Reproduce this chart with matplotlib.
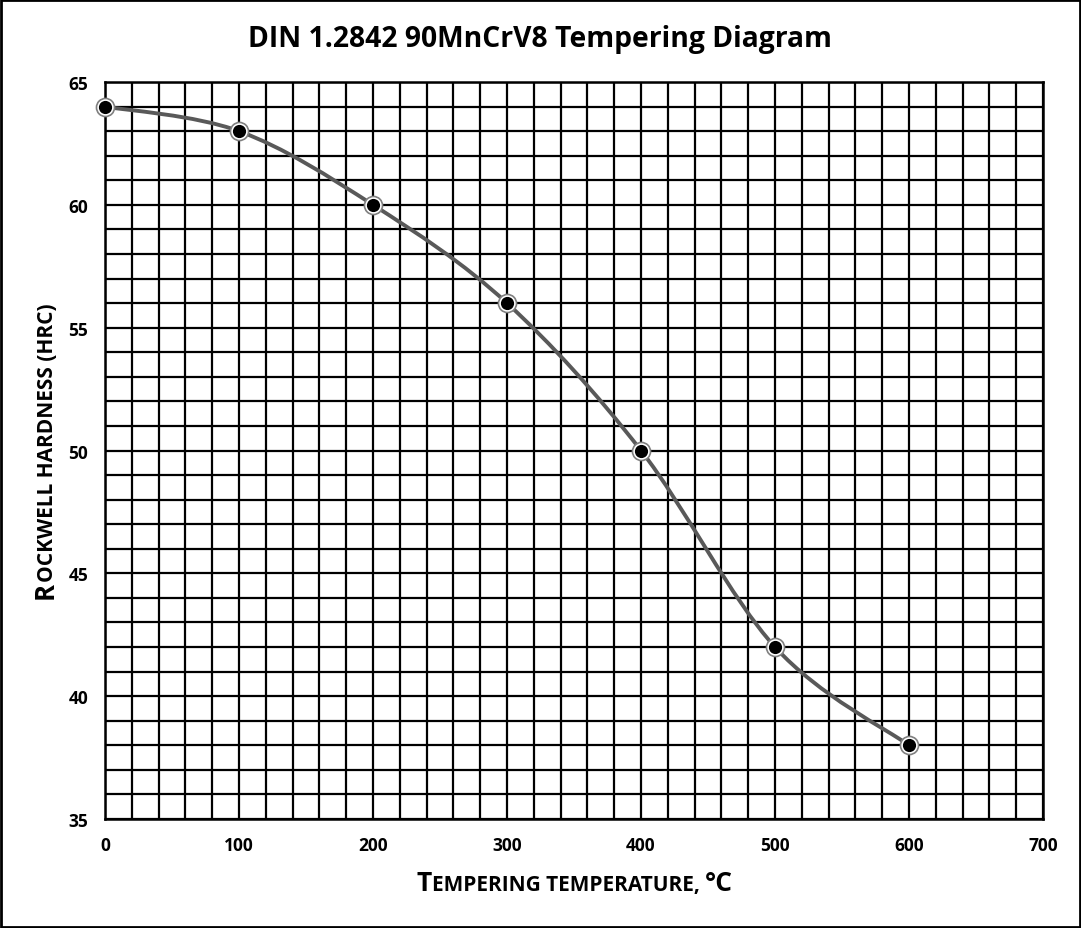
import matplotlib
matplotlib.use('Agg')
import matplotlib.pyplot as plt
from matplotlib.path import Path
from matplotlib.patches import PathPatch, Rectangle
from matplotlib.ticker import MultipleLocator

plt.rcParams['font.family'] = ['Open Sans', 'DejaVu Sans']
plt.rcParams['font.weight'] = 'bold'

# data
temps = [0, 100, 200, 300, 400, 500, 600]
hardness = [64, 63, 60, 56, 50, 42, 38]

title = 'DIN 1.2842 90MnCrV8 Tempering Diagram'
xlabel_parts = [('T', 19), ('EMPERING TEMPERATURE, ', 15), ('°C', 19)]
ylabel_parts = [('R', 18.5), ('OCKWELL HARDNESS (HRC)', 15)]

W, H = 1081, 929
fig = plt.figure(figsize=(W / 100, H / 100), dpi=100)
ax = fig.add_axes([105 / W, 1 - 820 / H, (1043 - 105) / W, (820 - 83) / H])

ax.set_xlim(0, 700)
ax.set_ylim(35, 65)
ax.xaxis.set_major_locator(MultipleLocator(100))
ax.xaxis.set_minor_locator(MultipleLocator(20))
ax.yaxis.set_major_locator(MultipleLocator(5))
ax.yaxis.set_minor_locator(MultipleLocator(1))
ax.grid(which='both', color='black', linewidth=1.6)
ax.set_axisbelow(True)
for sp in ax.spines.values():
    sp.set_linewidth(1.8)
ax.tick_params(which='both', length=0, labelsize=12.5, pad=12)
for lab in ax.get_xticklabels() + ax.get_yticklabels():
    lab.set_fontweight('bold')


# smoothed line like the spreadsheet (Catmull-Rom style bezier)
def smooth_path(xs, ys):
    pts = list(zip(xs, ys))
    verts = [pts[0]]
    codes = [Path.MOVETO]
    n = len(pts)
    for i in range(n - 1):
        p0 = pts[i - 1] if i > 0 else pts[i]
        p1 = pts[i]
        p2 = pts[i + 1]
        p3 = pts[i + 2] if i + 2 < n else pts[i + 1]
        c1 = (p1[0] + (p2[0] - p0[0]) / 6, p1[1] + (p2[1] - p0[1]) / 6)
        c2 = (p2[0] - (p3[0] - p1[0]) / 6, p2[1] - (p3[1] - p1[1]) / 6)
        verts += [c1, c2, p2]
        codes += [Path.CURVE4] * 3
    return Path(verts, codes)


ax.add_patch(PathPatch(smooth_path(temps, hardness), facecolor='none',
                       edgecolor='#595959', linewidth=2.8, zorder=3,
                       clip_on=False))
ax.plot(temps, hardness, 'o', markersize=13, markerfacecolor='white',
        markeredgecolor='#808080', markeredgewidth=1.2, zorder=4, clip_on=False)
ax.plot(temps, hardness, 'o', markersize=9.5, markerfacecolor='black',
        markeredgecolor='black', markeredgewidth=0, zorder=5, clip_on=False)

fig.text(540 / W, 1 - 40 / H, title, ha='center', va='center',
         fontsize=20.3, fontweight='bold')

# small caps labels built from pieces
fig.canvas.draw()
renderer = fig.canvas.get_renderer()


def piece_sizes(parts, rot):
    out = []
    for s, size in parts:
        t = fig.text(0.5, 0.5, s, fontsize=size, fontweight='bold', rotation=rot,
                     ha='left', va='baseline', rotation_mode='anchor')
        bb = t.get_window_extent(renderer)
        out.append(bb.height if rot else bb.width)
        t.remove()
    return out


ws = piece_sizes(xlabel_parts, 0)
x0 = 575 - sum(ws) / 2
for (s, size), w in zip(xlabel_parts, ws):
    fig.text(x0 / W, 1 - 891 / H, s, fontsize=size, fontweight='bold',
             ha='left', va='baseline')
    x0 += w

hs = piece_sizes(ylabel_parts, 90)
y0 = 451 + sum(hs) / 2
for (s, size), h in zip(ylabel_parts, hs):
    fig.text(53 / W, 1 - y0 / H, s, fontsize=size, fontweight='bold',
             ha='left', va='baseline', rotation=90, rotation_mode='anchor')
    y0 -= h

fig.add_artist(Rectangle((0.001, 0.001), 0.998, 0.998, transform=fig.transFigure,
                         fill=False, edgecolor='black', linewidth=2))

fig.savefig('out.png', dpi=100)
